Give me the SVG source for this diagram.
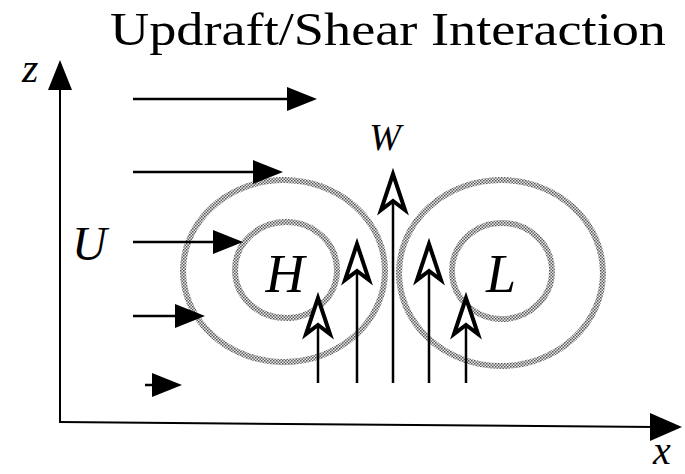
<svg xmlns="http://www.w3.org/2000/svg" xmlns:xlink="http://www.w3.org/1999/xlink" width="685" height="474" viewBox="0 0 685 474">
  <style>
    .lbl { font-family: "Liberation Serif", "DejaVu Serif", serif; font-style: italic; fill: #000; }
    .title { font-family: "Liberation Serif", "DejaVu Serif", serif; font-size: 46px; fill: #000; }
    .shaft { stroke: #000; stroke-width: 2.5; fill: none; }
    .axis { stroke: #000; stroke-width: 2; fill: none; }
    .contour { fill: none; stroke: url(#stip); stroke-width: 6; }
    .solid { fill: #000; }
    .open { fill: #fff; stroke: #000; stroke-width: 4; stroke-linejoin: miter; }
  </style>
  <defs>
    <pattern id="stip" patternUnits="userSpaceOnUse" width="3" height="3">
      <rect width="3" height="3" fill="#e8e8e8"/>
      <rect x="0" y="0" width="1.5" height="1.5" fill="#555"/>
      <rect x="1.5" y="1.5" width="1.5" height="1.5" fill="#666"/>
    </pattern>
    <path id="rhead" class="solid" d="M0,0 L-30,-12 L-30,12 Z"/>
    <path id="uhead" class="open" d="M0,0 L-12,36 L0,27 L12,36 Z"/>
  </defs>

  <text class="title" x="110" y="45" textLength="556" lengthAdjust="spacingAndGlyphs">Updraft/Shear Interaction</text>

  <g id="axes">
    <line class="axis" x1="60" y1="86" x2="60" y2="423"/>
    <path class="solid" d="M60,60 L48,90 L72,90 Z"/>
    <line class="axis" x1="60" y1="422" x2="655" y2="427"/>
    <path class="solid" d="M682,427 L650,413 L650,441 Z"/>
    <text class="lbl" x="22" y="82" font-size="42">z</text>
    <text class="lbl" x="653" y="464" font-size="40">x</text>
  </g>

  <g id="high">
    <ellipse class="contour" cx="284" cy="271" rx="101" ry="91"/>
    <ellipse class="contour" cx="286" cy="270" rx="51" ry="48"/>
    <text class="lbl" x="285" y="292" font-size="54" text-anchor="middle">H</text>
  </g>
  <g id="low">
    <ellipse class="contour" cx="501" cy="273" rx="102" ry="93"/>
    <ellipse class="contour" cx="502" cy="271" rx="50" ry="48"/>
    <text class="lbl" x="501" y="292" font-size="54" text-anchor="middle">L</text>
  </g>

  <g id="shear">
    <text class="lbl" x="72" y="260" font-size="48">U</text>
    <line class="shaft" x1="133" y1="99" x2="290" y2="99"/>
    <use xlink:href="#rhead" x="317" y="99"/>
    <line class="shaft" x1="133" y1="172" x2="255" y2="172"/>
    <use xlink:href="#rhead" x="283" y="172"/>
    <line class="shaft" x1="133" y1="242" x2="215" y2="242"/>
    <use xlink:href="#rhead" x="243" y="242"/>
    <line class="shaft" x1="133" y1="316" x2="180" y2="316"/>
    <use xlink:href="#rhead" x="205" y="316"/>
    <line class="shaft" x1="145" y1="385" x2="160" y2="385"/>
    <use xlink:href="#rhead" x="182" y="385"/>
  </g>

  <g id="updraft">
    <text class="lbl" x="385" y="150" font-size="38" text-anchor="middle">W</text>
    <line class="shaft" x1="318" y1="383" x2="318" y2="325"/>
    <use xlink:href="#uhead" x="318" y="298"/>
    <line class="shaft" x1="357" y1="383" x2="357" y2="271"/>
    <use xlink:href="#uhead" x="357" y="244"/>
    <line class="shaft" x1="393" y1="383" x2="393" y2="201"/>
    <use xlink:href="#uhead" x="393" y="174"/>
    <line class="shaft" x1="429" y1="383" x2="429" y2="271"/>
    <use xlink:href="#uhead" x="429" y="244"/>
    <line class="shaft" x1="466" y1="383" x2="466" y2="325"/>
    <use xlink:href="#uhead" x="466" y="298"/>
  </g>
</svg>
